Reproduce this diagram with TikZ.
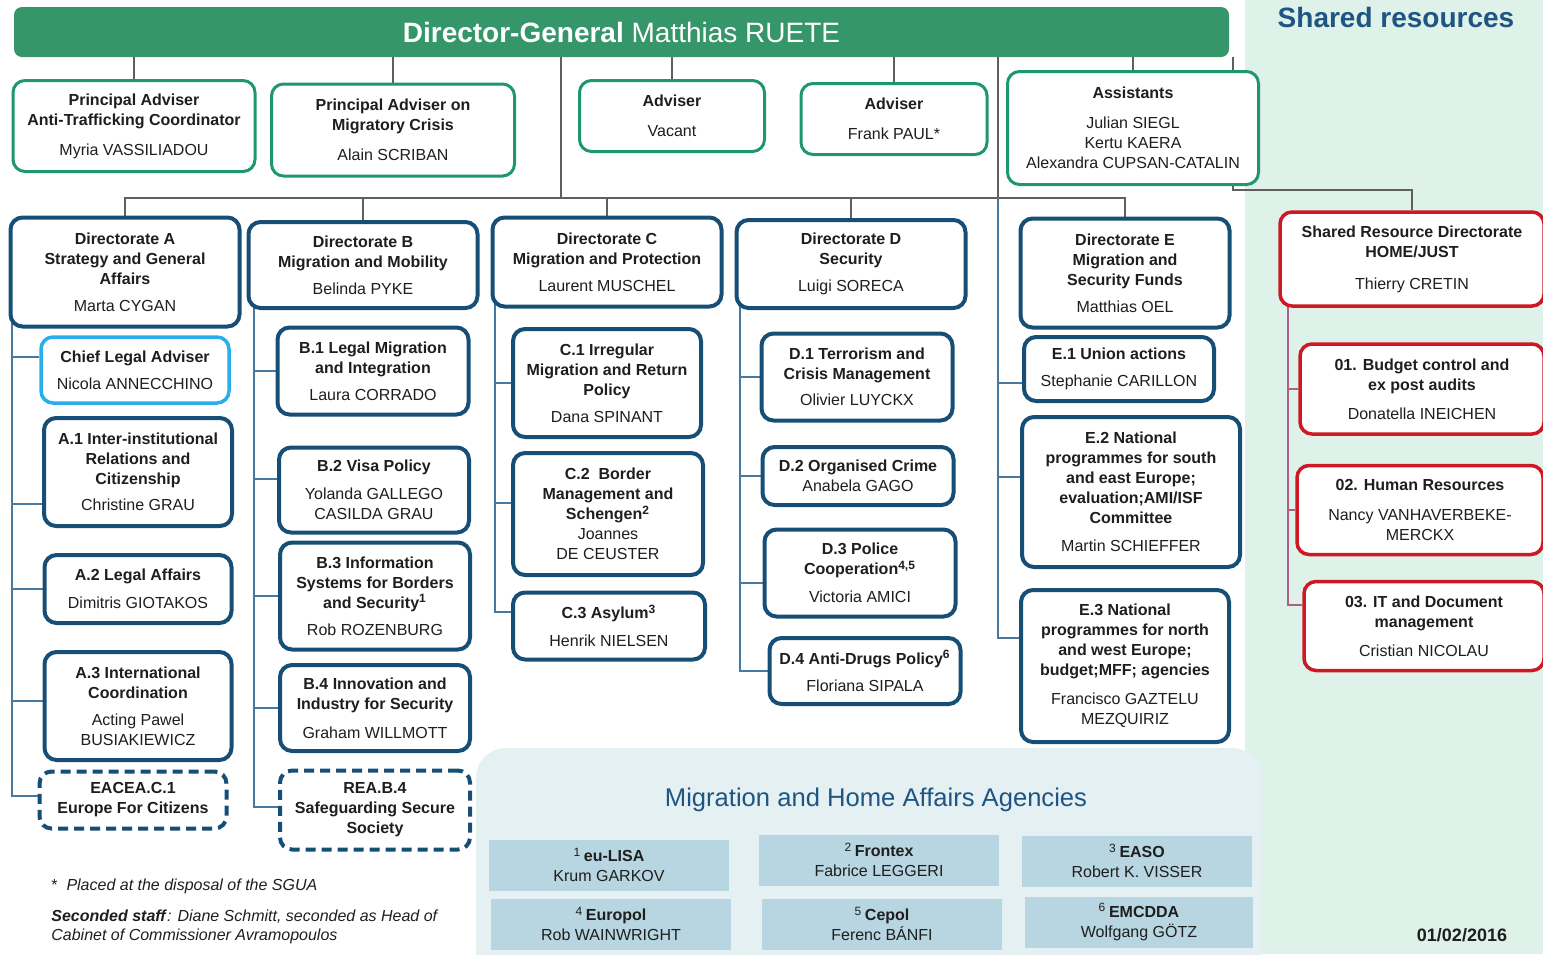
\documentclass[tikz,border=0pt]{standalone}
\usepackage{fontspec}
\setmainfont{Liberation Sans}

\definecolor{dggreen}{RGB}{53,150,105}
\definecolor{advgreen}{RGB}{30,150,110}
\definecolor{dirblue}{RGB}{22,78,118}
\definecolor{legalblue}{RGB}{40,175,235}
\definecolor{srred}{RGB}{205,25,35}
\definecolor{srbg}{RGB}{222,242,233}
\definecolor{agbg}{RGB}{229,240,243}
\definecolor{agblue}{RGB}{183,214,225}
\definecolor{titleblue}{RGB}{30,85,130}
\definecolor{linkgray}{RGB}{95,95,95}
\definecolor{spineblue}{RGB}{70,120,160}
\definecolor{srpink}{RGB}{175,95,135}
\definecolor{textgray}{RGB}{30,30,30}

\pgfdeclarelayer{panel}
\pgfdeclarelayer{links}
\pgfsetlayers{panel,links,main}

\begin{document}
\begin{tikzpicture}[x=0.5pt,y=-0.5pt,
  every node/.style={font=\fontsize{8}{10}\selectfont,text=textgray,align=center,inner sep=2pt},
  advbox/.style={draw=advgreen,line width=1.5pt,rounded corners=6pt,fill=white},
  dirbox/.style={draw=dirblue,line width=2pt,rounded corners=6pt,fill=white},
  legalbox/.style={draw=legalblue,line width=1.75pt,rounded corners=6pt,fill=white},
  extbox/.style={dirbox,dash pattern=on 5pt off 3pt},
  srbox/.style={draw=srred,line width=1.75pt,rounded corners=6pt,fill=white},
  agbox/.style={fill=agblue,minimum width=120pt,minimum height=25.5pt,inner sep=1pt},
  link/.style={draw=linkgray,line width=0.9pt},
  spine/.style={draw=spineblue,line width=0.9pt},
  srspine/.style={draw=srpink,line width=0.9pt}]
\useasboundingbox (0,0) rectangle (1543,954);

% panels
\begin{pgfonlayer}{panel}
\fill[srbg] (1245,0) rectangle (1543,954);
\fill[agbg,rounded corners=15pt] (476,748) rectangle (1262,980);
\end{pgfonlayer}

% director-general and advisers
\node[fill=dggreen,rounded corners=4pt,minimum width=607.5pt,minimum height=25pt,text=white,font=\fontsize{14}{16}\selectfont] (dg) at (621.5,32) {\textbf{Director-General} Matthias RUETE};
\node[text=titleblue,font=\fontsize{14}{16}\selectfont\bfseries] (shtitle) at (1396,17) {Shared resources};

\node[advbox,minimum width=121pt,minimum height=45.5pt] (pa1) at (134,126) {\textbf{Principal Adviser}\\\textbf{Anti-Trafficking Coordinator}\\[5pt]Myria VASSILIADOU};
\node[advbox,minimum width=121.5pt,minimum height=46pt] (pa2) at (393,130) {\textbf{Principal Adviser on}\\\textbf{Migratory Crisis}\\[5pt]Alain SCRIBAN};
\node[advbox,minimum width=92.5pt,minimum height=35.5pt] (adv1) at (672,116) {\textbf{Adviser}\\[5pt]Vacant};
\node[advbox,minimum width=93pt,minimum height=35.5pt] (adv2) at (894,119) {\textbf{Adviser}\\[5pt]Frank PAUL*};
\node[advbox,minimum width=125.5pt,minimum height=56.5pt] (asst) at (1133,128) {\textbf{Assistants}\\[5pt]Julian SIEGL\\Kertu KAERA\\Alexandra CUPSAN-CATALIN};

% directorates
\node[dirbox,minimum width=114.5pt,minimum height=54.5pt] (dA) at (125,272) {\textbf{Directorate A}\\\textbf{Strategy and General}\\\textbf{Affairs}\\[3.5pt]Marta CYGAN};
\node[dirbox,minimum width=114.5pt,minimum height=43pt] (dB) at (363,265) {\textbf{Directorate B}\\\textbf{Migration and Mobility}\\[3.5pt]Belinda PYKE};
\node[dirbox,minimum width=114.5pt,minimum height=44.5pt] (dC) at (607,262) {\textbf{Directorate C}\\\textbf{Migration and Protection}\\[3.5pt]Laurent MUSCHEL};
\node[dirbox,minimum width=114.5pt,minimum height=44pt] (dD) at (851,264) {\textbf{Directorate D}\\\textbf{Security}\\[3.5pt]Luigi SORECA};
\node[dirbox,minimum width=104.5pt,minimum height=54.5pt] (dE) at (1125,273) {\textbf{Directorate E}\\\textbf{Migration and}\\\textbf{Security Funds}\\[3.5pt]Matthias OEL};
\node[srbox,minimum width=132pt,minimum height=47pt] (srd) at (1412,259) {\textbf{Shared Resource Directorate}\\\textbf{HOME/JUST}\\[6pt]Thierry CRETIN};

% units A
\node[legalbox,minimum width=94pt,minimum height=33pt] (ala) at (135,370) {\textbf{Chief Legal Adviser}\\[3.5pt]Nicola ANNECCHINO};
\node[dirbox,minimum width=94pt,minimum height=54pt] (a1) at (138,472) {\textbf{A.1 Inter-institutional}\\\textbf{Relations and}\\\textbf{Citizenship}\\[3pt]Christine GRAU};
\node[dirbox,minimum width=93.5pt,minimum height=34pt] (a2) at (138,589) {\textbf{A.2 Legal Affairs}\\[4pt]Dimitris GIOTAKOS};
\node[dirbox,minimum width=93.5pt,minimum height=54pt] (a3) at (138,706) {\textbf{A.3 International}\\\textbf{Coordination}\\[3.5pt]Acting Pawel\\BUSIAKIEWICZ};
\node[extbox,minimum width=93.5pt,minimum height=28.5pt] (eacea) at (133,800) {\textbf{EACEA.C.1}\\\textbf{Europe For Citizens}};

% units B
\node[dirbox,minimum width=95.5pt,minimum height=43.5pt] (b1) at (373,371) {\textbf{B.1 Legal Migration}\\\textbf{and Integration}\\[3.5pt]Laura CORRADO};
\node[dirbox,minimum width=95pt,minimum height=42.5pt] (b2) at (374,490) {\textbf{B.2 Visa Policy}\\[4pt]Yolanda GALLEGO\\CASILDA GRAU};
\node[dirbox,minimum width=95pt,minimum height=53.5pt] (b3) at (375,596) {\textbf{B.3 Information}\\\textbf{Systems for Borders}\\\textbf{and Security\textsuperscript{1}}\\[3.5pt]Rob ROZENBURG};
\node[dirbox,minimum width=95pt,minimum height=43pt] (b4) at (375,708) {\textbf{B.4 Innovation and}\\\textbf{Industry for Security}\\[4.5pt]Graham WILLMOTT};
\node[extbox,minimum width=95pt,minimum height=39.5pt] (rea) at (375,810) {\textbf{REA.B.4}\\\textbf{Safeguarding Secure}\\\textbf{Society}};

% units C
\node[dirbox,minimum width=94pt,minimum height=54pt] (c1) at (607,383) {\textbf{C.1 Irregular}\\\textbf{Migration and Return}\\\textbf{Policy}\\[3.5pt]Dana SPINANT};
\node[dirbox,minimum width=95pt,minimum height=61pt] (c2) at (608,514) {\textbf{C.2\ \ Border}\\\textbf{Management and}\\\textbf{Schengen\textsuperscript{2}}\\Joannes\\DE CEUSTER};
\node[dirbox,minimum width=96pt,minimum height=33.5pt] (c3) at (609,626) {\textbf{C.3 Asylum\textsuperscript{3}}\\[4pt]Henrik NIELSEN};

% units D
\node[dirbox,minimum width=95.5pt,minimum height=43.5pt] (d1) at (857,377) {\textbf{D.1 Terrorism and}\\\textbf{Crisis Management}\\[3pt]Olivier LUYCKX};
\node[dirbox,minimum width=95.5pt,minimum height=29pt] (d2) at (858,476) {\textbf{D.2 Organised Crime}\\Anabela GAGO};
\node[dirbox,minimum width=95.5pt,minimum height=43.5pt] (d3) at (860,573) {\textbf{D.3 Police}\\\textbf{Cooperation\textsuperscript{4,5}}\\[4pt]Victoria AMICI};
\node[dirbox,minimum width=95.5pt,minimum height=33pt] (d4) at (865,671) {\textbf{D.4 Anti-Drugs Policy\textsuperscript{6}}\\[3.5pt]Floriana SIPALA};

% units E
\node[dirbox,minimum width=95pt,minimum height=32pt] (e1) at (1119,369) {\textbf{E.1 Union actions}\\[3.5pt]Stephanie CARILLON};
\node[dirbox,minimum width=109pt,minimum height=75pt] (e2) at (1131,492) {\textbf{E.2 National}\\\textbf{programmes for south}\\\textbf{and east Europe;}\\\textbf{evaluation;AMI/ISF}\\\textbf{Committee}\\[4pt]Martin SCHIEFFER};
\node[dirbox,minimum width=104pt,minimum height=76pt] (e3) at (1125,666) {\textbf{E.3 National}\\\textbf{programmes for north}\\\textbf{and west Europe;}\\\textbf{budget;MFF; agencies}\\[4.5pt]Francisco GAZTELU\\MEZQUIRIZ};

% shared resource units
\node[srbox,minimum width=122pt,minimum height=45pt] (s1) at (1422,389) {\textbf{01. Budget control and}\\\textbf{ex post audits}\\[4.5pt]Donatella INEICHEN};
\node[srbox,minimum width=123pt,minimum height=44.5pt] (s2) at (1420,510) {\textbf{02. Human Resources}\\[5pt]Nancy VANHAVERBEKE-\\MERCKX};
\node[srbox,minimum width=120pt,minimum height=44.5pt] (s3) at (1424,626) {\textbf{03. IT and Document}\\\textbf{management}\\[4.5pt]Cristian NICOLAU};

% agencies
\node[text=titleblue,font=\fontsize{12.8}{14}\selectfont] (agtitle) at (876,800) {Migration and Home Affairs Agencies};
\node[agbox] (ag1) at (609,865) {\textsuperscript{1}\,\textbf{eu-LISA}\\Krum GARKOV};
\node[agbox] (ag2) at (879,860) {\textsuperscript{2}\,\textbf{Frontex}\\Fabrice LEGGERI};
\node[agbox,minimum width=115pt] (ag3) at (1137,861) {\textsuperscript{3}\,\textbf{EASO}\\Robert K. VISSER};
\node[agbox] (ag4) at (611,924) {\textsuperscript{4}\,\textbf{Europol}\\Rob WAINWRIGHT};
\node[agbox] (ag5) at (882,924) {\textsuperscript{5}\,\textbf{Cepol}\\Ferenc BÁNFI};
\node[agbox,minimum width=114pt] (ag6) at (1139,922) {\textsuperscript{6}\,\textbf{EMCDDA}\\Wolfgang GÖTZ};

% notes
\node[anchor=west,align=left,font=\fontsize{8}{9.5}\selectfont] (note1) at (47,886) {*\ \ \textit{Placed at the disposal of the SGUA}};
\node[anchor=west,align=left,font=\fontsize{8}{9.5}\selectfont] (note2) at (47,927) {\textbf{\textit{Seconded staff}}\textit{: Diane Schmitt, seconded as Head of}\\\textit{Cabinet of Commissioner Avramopoulos}};
\node[font=\fontsize{9}{11}\selectfont\bfseries] (date) at (1462,935) {01/02/2016};

% connectors
\coordinate (hub) at (561,198);
\coordinate (srk) at (1233,190);
\coordinate (aspine) at (12,318);
\coordinate (bspine) at (254,300);
\coordinate (cspine) at (495,300);
\coordinate (dspine) at (740,300);
\coordinate (espine) at (998,198);
\coordinate (sspine) at (1288,300);
\begin{pgfonlayer}{links}
\foreach \u in {pa1,pa2,adv1,adv2,asst}
  \draw[link] (dg.south -| \u.north) -- (\u.north);
\draw[link] (dg.south -| hub) -- (hub);
\draw[link] (dA.north) |- (hub) -| (dE.north);
\foreach \u in {dB,dC,dD}
  \draw[link] (\u.north |- hub) -- (\u.north);
\draw[link] (dg.south -| espine) -- (espine);
\draw[link] (dg.south -| srk) -- (srk) -| (srd.north);
\foreach \u/\s in {ala/6.5,a1/-16,a2/0,a3/2.5,eacea/2}
  \draw[spine] (aspine) |- ([yshift=\s pt]\u.west);
\foreach \u/\s in {b1/0,b2/5.5,b3/0,b4/0,rea/1.5}
  \draw[spine] (bspine) |- ([yshift=\s pt]\u.west);
\foreach \u/\s in {c1/0,c2/5.5,c3/7}
  \draw[spine] (cspine) |- ([yshift=\s pt]\u.west);
\foreach \u/\s in {d1/0,d2/0,d3/-5,d4/0}
  \draw[spine] (dspine) |- ([yshift=\s pt]\u.west);
\foreach \u/\s in {e1/-7,e2/7.5,e3/14}
  \draw[spine] (espine) |- ([yshift=\s pt]\u.west);
\foreach \u/\s in {s1/0,s2/0,s3/10.5}
  \draw[srspine] (sspine) |- ([yshift=\s pt]\u.west);
\end{pgfonlayer}
\end{tikzpicture}
\end{document}
